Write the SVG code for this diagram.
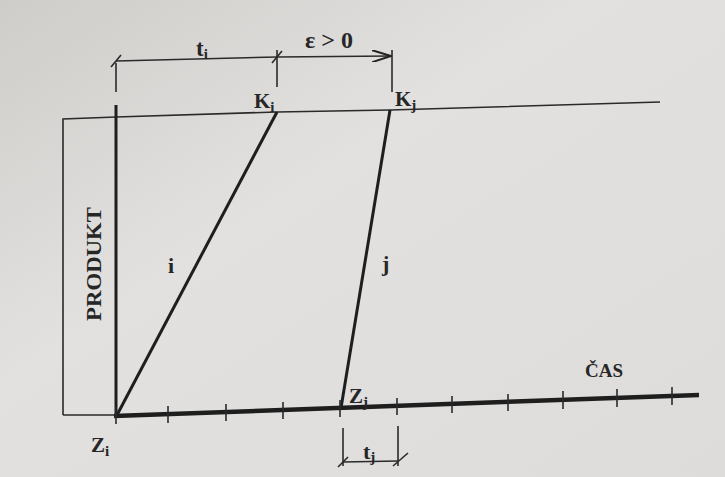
<svg xmlns="http://www.w3.org/2000/svg" width="725" height="477" viewBox="0 0 725 477">
<defs>
<linearGradient id="bg" x1="0" y1="0" x2="1" y2="1">
<stop offset="0" stop-color="#cfcdca"/>
<stop offset="0.4" stop-color="#e2e1df"/>
<stop offset="1" stop-color="#dddcda"/>
</linearGradient>
<marker id="open" viewBox="0 0 20 12" refX="19" refY="6" markerWidth="20" markerHeight="12" markerUnits="userSpaceOnUse" orient="auto">
<path d="M0,0 L19,6 L0,12" fill="none" stroke="#222" stroke-width="2"/>
</marker>
</defs>
<style>
.thin{stroke:#2a2a2a;stroke-width:1.6;fill:none}
.med{stroke:#1e1e1e;stroke-width:3;fill:none}
.thick{stroke:#1e1e1e;stroke-width:4.5;fill:none}
.lbl{font-family:"Liberation Serif","Times New Roman",serif;font-weight:bold;fill:#262626}
</style>
<rect width="725" height="477" fill="url(#bg)"/>
<g id="connectors">
<path class="thin" d="M63,415 L63,119 L116,117 L277,112 L390,110 L660,102"/>
<line class="thin" x1="63" y1="415" x2="116" y2="415"/>
<line class="med" x1="116" y1="105" x2="116" y2="416"/>
<line class="thin" x1="116" y1="63" x2="116" y2="92"/>
<line class="thin" x1="277" y1="50" x2="277" y2="87"/>
<line class="thin" x1="392" y1="50" x2="392" y2="92"/>
<line class="thin" x1="116" y1="61" x2="277" y2="57"/>
<line class="thin" x1="111" y1="67" x2="121" y2="55"/>
<line class="thin" x1="272" y1="63" x2="282" y2="51"/>
<line class="thin" x1="277" y1="57" x2="391" y2="56" marker-end="url(#open)"/>
<line class="med" x1="117" y1="415" x2="277" y2="112"/>
<line class="med" x1="341" y1="408" x2="390" y2="110"/>
<line class="thick" x1="114" y1="416" x2="699" y2="395"/>
<g class="thin">
<line x1="116" y1="407" x2="116" y2="424"/>
<line x1="168" y1="406" x2="168" y2="423"/>
<line x1="226" y1="404" x2="226" y2="421"/>
<line x1="283" y1="402" x2="283" y2="419"/>
<line x1="340" y1="400" x2="340" y2="417"/>
<line x1="397" y1="398" x2="397" y2="415"/>
<line x1="452" y1="396" x2="452" y2="413"/>
<line x1="508" y1="394" x2="508" y2="411"/>
<line x1="563" y1="391" x2="563" y2="409"/>
<line x1="617" y1="389" x2="617" y2="407"/>
<line x1="672" y1="387" x2="672" y2="405"/>
</g>
<line class="thin" x1="343" y1="428" x2="343" y2="466"/>
<line class="thin" x1="398" y1="426" x2="398" y2="466"/>
<line class="thin" x1="343" y1="462" x2="398" y2="461"/>
<line class="thin" x1="338" y1="467" x2="348" y2="457"/>
<line class="thin" x1="393" y1="466" x2="408" y2="453"/>
</g>
<g id="labels">
<text class="lbl" x="196" y="56" font-size="23">t<tspan font-size="15" dy="3">i</tspan></text>
<text class="lbl" x="305" y="48" font-size="24" font-weight="normal">ε &gt; 0</text>
<text class="lbl" x="254" y="108" font-size="21">K<tspan font-size="15" dy="4">i</tspan></text>
<text class="lbl" x="395" y="106" font-size="21">K<tspan font-size="15" dy="4">j</tspan></text>
<text class="lbl" x="168" y="273" font-size="22">i</text>
<text class="lbl" x="382" y="271" font-size="22">j</text>
<text class="lbl" x="349" y="403" font-size="21">Z<tspan font-size="15" dy="4">j</tspan></text>
<text class="lbl" x="91" y="452" font-size="21">Z<tspan font-size="15" dy="4">i</tspan></text>
<text class="lbl" x="585" y="377" font-size="19">ČAS</text>
<text class="lbl" x="363" y="459" font-size="22">t<tspan font-size="15" dy="3">j</tspan></text>
<text class="lbl" font-size="20" textLength="114" lengthAdjust="spacingAndGlyphs" transform="translate(101,321) rotate(-90)">PRODUKT</text>
</g>
</svg>
